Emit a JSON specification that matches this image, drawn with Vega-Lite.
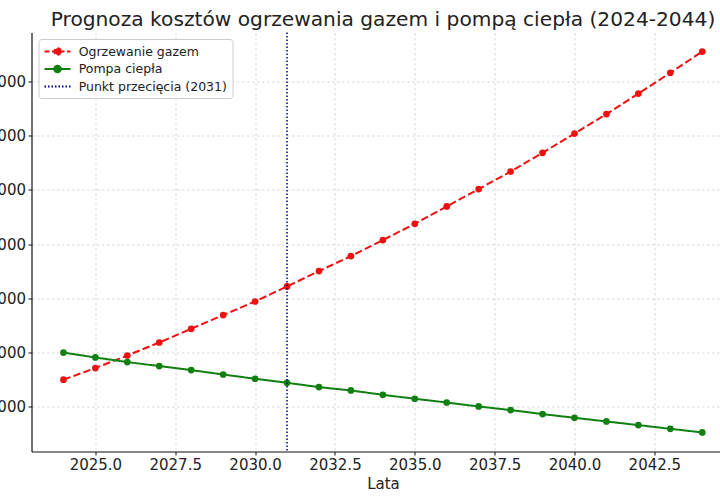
{
  "$schema": "https://vega.github.io/schema/vega-lite/v6.json",
  "description": "Prognoza kosztow ogrzewania gazem i pompa ciepla 2024-2044",
  "autosize": {"type": "none"},
  "padding": {"left": 31.5, "top": 32.5, "right": 0.5, "bottom": 48.5},
  "width": 688,
  "height": 419,
  "background": "white",
  "title": {
    "text": "Prognoza kosztów ogrzewania gazem i pompą ciepła (2024-2044)",
    "anchor": "middle",
    "dx": 7.5,
    "baseline": "alphabetic",
    "offset": -14,
    "fontSize": 20.2,
    "fontWeight": "normal",
    "color": "#222222"
  },
  "datasets": {
    "koszty": [
      {"rok": 2024, "seria": "Ogrzewanie gazem", "koszt": 1500},
      {"rok": 2025, "seria": "Ogrzewanie gazem", "koszt": 1714},
      {"rok": 2026, "seria": "Ogrzewanie gazem", "koszt": 1946},
      {"rok": 2027, "seria": "Ogrzewanie gazem", "koszt": 2186},
      {"rok": 2028, "seria": "Ogrzewanie gazem", "koszt": 2439},
      {"rok": 2029, "seria": "Ogrzewanie gazem", "koszt": 2692},
      {"rok": 2030, "seria": "Ogrzewanie gazem", "koszt": 2943},
      {"rok": 2031, "seria": "Ogrzewanie gazem", "koszt": 3220},
      {"rok": 2032, "seria": "Ogrzewanie gazem", "koszt": 3504},
      {"rok": 2033, "seria": "Ogrzewanie gazem", "koszt": 3780},
      {"rok": 2034, "seria": "Ogrzewanie gazem", "koszt": 4076},
      {"rok": 2035, "seria": "Ogrzewanie gazem", "koszt": 4376},
      {"rok": 2036, "seria": "Ogrzewanie gazem", "koszt": 4696},
      {"rok": 2037, "seria": "Ogrzewanie gazem", "koszt": 5017},
      {"rok": 2038, "seria": "Ogrzewanie gazem", "koszt": 5341},
      {"rok": 2039, "seria": "Ogrzewanie gazem", "koszt": 5686},
      {"rok": 2040, "seria": "Ogrzewanie gazem", "koszt": 6042},
      {"rok": 2041, "seria": "Ogrzewanie gazem", "koszt": 6400},
      {"rok": 2042, "seria": "Ogrzewanie gazem", "koszt": 6780},
      {"rok": 2043, "seria": "Ogrzewanie gazem", "koszt": 7162},
      {"rok": 2044, "seria": "Ogrzewanie gazem", "koszt": 7555},
      {"rok": 2024, "seria": "Pompa ciepła", "koszt": 2000},
      {"rok": 2025, "seria": "Pompa ciepła", "koszt": 1910},
      {"rok": 2026, "seria": "Pompa ciepła", "koszt": 1825},
      {"rok": 2027, "seria": "Pompa ciepła", "koszt": 1751},
      {"rok": 2028, "seria": "Pompa ciepła", "koszt": 1677},
      {"rok": 2029, "seria": "Pompa ciepła", "koszt": 1596},
      {"rok": 2030, "seria": "Pompa ciepła", "koszt": 1517},
      {"rok": 2031, "seria": "Pompa ciepła", "koszt": 1443},
      {"rok": 2032, "seria": "Pompa ciepła", "koszt": 1363},
      {"rok": 2033, "seria": "Pompa ciepła", "koszt": 1301},
      {"rok": 2034, "seria": "Pompa ciepła", "koszt": 1221},
      {"rok": 2035, "seria": "Pompa ciepła", "koszt": 1148},
      {"rok": 2036, "seria": "Pompa ciepła", "koszt": 1079},
      {"rok": 2037, "seria": "Pompa ciepła", "koszt": 1006},
      {"rok": 2038, "seria": "Pompa ciepła", "koszt": 939},
      {"rok": 2039, "seria": "Pompa ciepła", "koszt": 865},
      {"rok": 2040, "seria": "Pompa ciepła", "koszt": 797},
      {"rok": 2041, "seria": "Pompa ciepła", "koszt": 729},
      {"rok": 2042, "seria": "Pompa ciepła", "koszt": 662},
      {"rok": 2043, "seria": "Pompa ciepła", "koszt": 594},
      {"rok": 2044, "seria": "Pompa ciepła", "koszt": 526}
    ],
    "przeciecie": [
      {"rok": 2031, "seria": "Punkt przecięcia (2031)"}
    ]
  },
  "encoding": {
    "x": {
      "field": "rok",
      "type": "quantitative",
      "scale": {"domain": [2023, 2044.54], "nice": false, "zero": false},
      "axis": {
        "title": "Lata",
        "values": [2025, 2027.5, 2030, 2032.5, 2035, 2037.5, 2040, 2042.5],
        "format": ".1f",
        "titleX": 351.5,
        "titleY": 36.5,
        "titleBaseline": "alphabetic",
        "titleAnchor": "middle"
      }
    },
    "color": {
      "field": "seria",
      "type": "nominal",
      "scale": {
        "domain": ["Ogrzewanie gazem", "Pompa ciepła", "Punkt przecięcia (2031)"],
        "range": ["#ee1111", "#108010", "#000080"]
      },
      "legend": {
        "title": null,
        "orient": "none",
        "legendX": 7,
        "legendY": 6.5,
        "symbolSize": 169,
        "symbolOffset": 6.5,
        "labelOffset": 13.7,
        "rowPadding": 2.5,
        "padding": 5,
        "labelLimit": 300,
        "encode": {
          "symbols": {
            "update": {
              "shape": {"signal": "datum.value === 'Punkt przecięcia (2031)' ? 'M-2,0H2' : 'M-2,0H2M0.5,0A0.5,0.5 0 1 1 -0.5,0A0.5,0.5 0 1 1 0.5,0'"},
              "strokeDash": {"signal": "datum.value === 'Ogrzewanie gazem' ? [5, 2.5] : datum.value === 'Punkt przecięcia (2031)' ? [1.5, 2] : [1, 0]"},
              "fill": {"signal": "scale('color', datum.value)"},
              "stroke": {"signal": "scale('color', datum.value)"},
              "strokeWidth": {"value": 2},
              "opacity": {"value": 1}
            }
          }
        }
      }
    }
  },
  "layer": [
    {
      "data": {"name": "koszty"},
      "mark": {"type": "line", "strokeWidth": 2},
      "encoding": {
        "y": {
          "field": "koszt",
          "type": "quantitative",
          "scale": {"domain": [175, 7906], "nice": false, "zero": false},
          "axis": {
            "title": null,
            "values": [1000, 2000, 3000, 4000, 5000, 6000, 7000],
            "format": "d"
          }
        },
        "strokeDash": {
          "field": "seria",
          "type": "nominal",
          "scale": {
            "domain": ["Ogrzewanie gazem", "Pompa ciepła"],
            "range": [[7.4, 3.2], [1, 0]]
          },
          "legend": null
        }
      }
    },
    {
      "data": {"name": "koszty"},
      "mark": {"type": "point", "filled": true, "size": 45, "opacity": 1},
      "encoding": {
        "y": {"field": "koszt", "type": "quantitative"}
      }
    },
    {
      "data": {"name": "przeciecie"},
      "mark": {"type": "rule", "strokeWidth": 1.5, "strokeDash": [1.5, 2]},
      "encoding": {}
    }
  ],
  "config": {
    "font": "DejaVu Sans",
    "view": {"stroke": null},
    "axis": {
      "labelFontSize": 15,
      "labelColor": "#222222",
      "titleFontSize": 15,
      "titleFontWeight": "normal",
      "titleColor": "#222222",
      "domainColor": "#111111",
      "domainWidth": 1.2,
      "tickColor": "#111111",
      "tickSize": 3.5,
      "labelPadding": 2.5,
      "grid": true,
      "gridColor": "#cfcfcf",
      "gridDash": [2.5, 2.5],
      "gridWidth": 0.8
    },
    "legend": {
      "labelFontSize": 12.5,
      "labelColor": "#222222",
      "fillColor": "rgba(255,255,255,0.85)",
      "strokeColor": "#cccccc",
      "cornerRadius": 3
    }
  }
}
